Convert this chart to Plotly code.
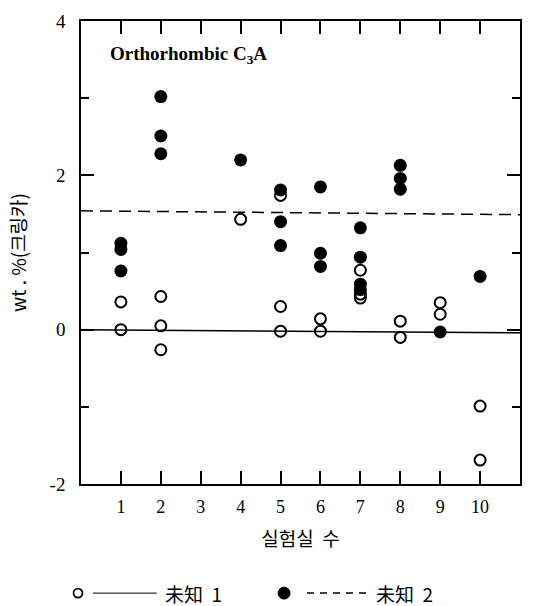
import plotly.graph_objects as go

# 未知 1 (open circles)
u1_x = [1, 1, 2, 2, 2, 4, 5, 5, 5, 6, 6, 7, 7, 7, 8, 8, 9, 9, 10, 10]
u1_y = [0.36, 0.0, 0.43, 0.05, -0.26, 1.43, 1.74, 0.30, -0.02, 0.14, -0.02,
        0.77, 0.46, 0.41, 0.11, -0.10, 0.35, 0.20, -0.99, -1.69]
# 未知 2 (filled circles)
u2_x = [1, 1, 1, 2, 2, 2, 4, 5, 5, 5, 6, 6, 6, 7, 7, 7, 7, 8, 8, 8, 9, 10]
u2_y = [1.12, 1.04, 0.76, 3.02, 2.51, 2.28, 2.20, 1.81, 1.40, 1.09, 1.85, 0.99, 0.82,
        1.32, 0.94, 0.59, 0.52, 2.13, 1.96, 1.82, -0.03, 0.69]
# fitted lines
line1_x = [0, 11]
line1_y = [0.0, -0.04]
line2_x = [0, 11]
line2_y = [1.54, 1.49]

x_ticks = [1, 2, 3, 4, 5, 6, 7, 8, 9, 10]
x_labels = ["1", "2", "3", "4", "5", "6", "7", "8", "9", "10"]
y_ticks = [-2, 0, 2, 4]
y_labels = ["-2", "0", "2", "4"]
y_minor = [-1, 1, 3]

fig = go.Figure()
fig.add_trace(go.Scatter(x=line1_x, y=line1_y, mode="lines",
                         line=dict(color="black", width=1.5), showlegend=False))
fig.add_trace(go.Scatter(x=line2_x, y=line2_y, mode="lines",
                         line=dict(color="black", width=1.5, dash="12px,7px"), showlegend=False))
fig.add_trace(go.Scatter(x=u1_x, y=u1_y, mode="markers",
                         marker=dict(symbol="circle-open", size=11, color="black",
                                     line=dict(width=2)), showlegend=False))
fig.add_trace(go.Scatter(x=u2_x, y=u2_y, mode="markers",
                         marker=dict(symbol="circle", size=13, color="black"), showlegend=False))

serif = "Liberation Serif, Times New Roman, serif"
kr = "Noto Sans CJK KR, sans-serif"
NB = "\u00a0"

fig.update_layout(
    width=533, height=606,
    margin=dict(l=81, r=11, t=13, b=122),
    paper_bgcolor="white", plot_bgcolor="white",
    font=dict(family=serif, size=16, color="black"),
    xaxis=dict(range=[0, 11], tickvals=x_ticks, ticktext=x_labels,
               ticks="inside", ticklen=13, tickwidth=1.5, tickcolor="black",
               showline=True, linecolor="black", linewidth=1.5, mirror="ticks",
               showgrid=False, zeroline=False, ticklabelstandoff=6,
               tickfont=dict(family=serif, size=18),
               title=dict(text="실험실" + NB * 2 + "수", font=dict(family=kr, size=19), standoff=16)),
    yaxis=dict(range=[-2, 4], tickvals=y_ticks, ticktext=y_labels,
               ticks="inside", ticklen=13, tickwidth=1.5, tickcolor="black",
               minor=dict(tickvals=y_minor, ticks="inside", ticklen=8, tickwidth=1.5,
                          tickcolor="black", showgrid=False),
               showline=True, linecolor="black", linewidth=1.5, mirror="ticks",
               showgrid=False, zeroline=False, ticklabelstandoff=10,
               tickfont=dict(family=serif, size=19),
               title=dict(text="wt" + NB + "." + NB + "%(크링카)", font=dict(family=kr, size=19),
                          standoff=18)),
)

fig.add_annotation(x=(108 - 81) / 441, y=(484 - 48) / 471, xref="paper", yref="paper",
                   xanchor="left", yanchor="middle",
                   text="<b>Orthorhombic C<sub>3</sub>A</b>", showarrow=False,
                   font=dict(family=serif, size=19))

# custom legend below the chart
leg_y = 595
ly = (484 - leg_y) / 471

fig.add_shape(type="circle", xref="paper", yref="paper", xsizemode="pixel", ysizemode="pixel",
              xanchor=(78 - 81) / 441, yanchor=ly,
              x0=-4.5, x1=4.5, y0=-4.5, y1=4.5, line=dict(color="black", width=1.8))
fig.add_shape(type="line", xref="paper", yref="paper",
              x0=(93 - 81) / 441, x1=(157 - 81) / 441,
              y0=ly, y1=ly, line=dict(color="black", width=1))
fig.add_annotation(x=(163 - 81) / 441, y=ly, xref="paper", yref="paper",
                   xanchor="left", yanchor="middle", text="未知" + NB * 2 + "1", showarrow=False,
                   font=dict(family="Noto Sans CJK JP", size=19))
fig.add_shape(type="circle", xref="paper", yref="paper", xsizemode="pixel", ysizemode="pixel",
              xanchor=(285 - 81) / 441, yanchor=ly,
              x0=-6, x1=6, y0=-6, y1=6, fillcolor="black", line=dict(color="black", width=1))
fig.add_shape(type="line", xref="paper", yref="paper",
              x0=(308 - 81) / 441, x1=(368 - 81) / 441,
              y0=ly, y1=ly, line=dict(color="black", width=1.5, dash="7px,6px"))
fig.add_annotation(x=(375 - 81) / 441, y=ly, xref="paper", yref="paper",
                   xanchor="left", yanchor="middle", text="未知" + NB * 2 + "2", showarrow=False,
                   font=dict(family="Noto Sans CJK JP", size=19))

fig.write_html("out.html")
